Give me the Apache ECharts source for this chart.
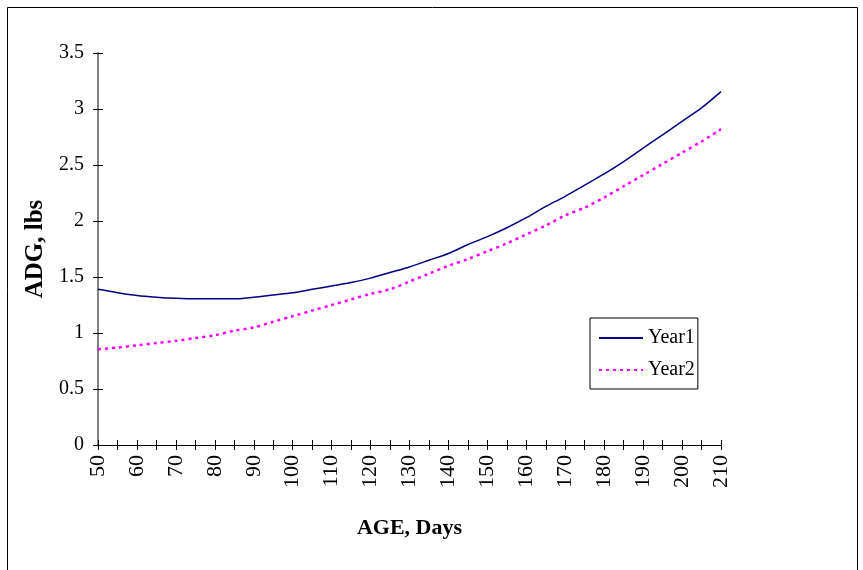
<!DOCTYPE html>
<html>
<head>
<meta charset="utf-8">
<script src="https://cdn.jsdelivr.net/npm/echarts@6/dist/echarts.min.js"></script>
<style>
  html, body { margin: 0; padding: 0; background: #fff; }
  #chart { width: 863px; height: 570px; }
</style>
</head>
<body>
<div id="chart"></div>
<script>
// age in days, every 5 days
var days = [50, 55, 60, 65, 70, 75, 80, 85, 90, 95, 100, 105, 110, 115, 120, 125, 130,
  135, 140, 145, 150, 155, 160, 165, 170, 175, 180, 185, 190, 195, 200, 205, 210];
// ADG, lbs
var year1 = [1.39, 1.36, 1.335, 1.32, 1.31, 1.305, 1.305, 1.305, 1.32, 1.34, 1.36, 1.39, 1.42,
  1.45, 1.49, 1.54, 1.59, 1.65, 1.71, 1.79, 1.86, 1.94, 2.03, 2.13, 2.22, 2.32, 2.42,
  2.53, 2.65, 2.77, 2.89, 3.01, 3.155];
var year2 = [0.855, 0.87, 0.89, 0.91, 0.93, 0.955, 0.98, 1.02, 1.05, 1.10, 1.15, 1.20, 1.25,
  1.30, 1.35, 1.39, 1.46, 1.53, 1.60, 1.66, 1.73, 1.80, 1.88, 1.96, 2.05, 2.12, 2.21,
  2.31, 2.41, 2.51, 2.61, 2.71, 2.82];
var seriesNames = ["Year1", "Year2"];

var font = "Liberation Serif";

function pairs(vals) {
  return days.map(function (d, i) { return [d, vals[i]]; });
}

var chart = echarts.init(document.getElementById("chart"));

// two copies of each axis so the ticks cross the axis line
var xBase = {
  type: "value", min: 50, max: 210, interval: 5,
  splitLine: { show: false }
};
var yBase = {
  type: "value", min: 0, max: 3.5, interval: 0.5,
  splitLine: { show: false }
};

chart.setOption({
  animation: false,
  backgroundColor: "#fff",
  graphic: [{
    type: "rect",
    shape: { x: 7.5, y: 7.5, width: 850, height: 580 },
    style: { fill: "none", stroke: "#000", lineWidth: 1 }
  }],
  grid: { left: 98, right: 142, top: 53, bottom: 125 },
  legend: {
    orient: "vertical",
    left: 590, top: 318,
    data: seriesNames,
    itemWidth: 44, itemHeight: 14, itemGap: 12,
    padding: [10, 3, 9, 8],
    borderColor: "#000", borderWidth: 1,
    itemStyle: { opacity: 0 },
    textStyle: { fontFamily: font, fontSize: 20, color: "#000", lineHeight: 20 }
  },
  xAxis: [
    Object.assign({}, xBase, {
      name: "AGE, Days",
      nameLocation: "middle",
      nameGap: 72,
      nameTextStyle: { fontFamily: font, fontSize: 22, fontWeight: "bold", color: "#000" },
      axisLine: { lineStyle: { color: "#000", width: 1 } },
      axisTick: { inside: false, length: 5, lineStyle: { color: "#000" } },
      axisLabel: {
        rotate: 90, margin: 10,
        fontFamily: font, fontSize: 22, color: "#000",
        showMaxLabel: true, showMinLabel: true,
        formatter: function (v) { return v % 10 === 0 ? String(v) : ""; }
      }
    }),
    Object.assign({}, xBase, {
      position: "bottom",
      axisLine: { show: false },
      axisTick: { inside: true, length: 5, lineStyle: { color: "#000" } },
      axisLabel: { show: false }
    })
  ],
  yAxis: [
    Object.assign({}, yBase, {
      name: "ADG, lbs",
      nameLocation: "middle",
      nameGap: 49,
      nameTextStyle: { fontFamily: font, fontSize: 25, fontWeight: "bold", color: "#000" },
      axisLine: { lineStyle: { color: "#808080", width: 2 } },
      axisTick: { inside: false, length: 5, lineStyle: { color: "#000" } },
      axisLabel: { margin: 14, fontFamily: font, fontSize: 20, color: "#000" }
    }),
    Object.assign({}, yBase, {
      position: "left",
      axisLine: { show: false },
      axisTick: { inside: true, length: 5, lineStyle: { color: "#000" } },
      axisLabel: { show: false }
    })
  ],
  series: [
    {
      name: seriesNames[0],
      type: "line",
      data: pairs(year1),
      smooth: 0.3,
      symbol: "none",
      lineStyle: { color: "#000080", width: 1.5 },
      itemStyle: { color: "#000080" }
    },
    {
      name: seriesNames[1],
      type: "line",
      data: pairs(year2),
      smooth: 0.3,
      symbol: "none",
      lineStyle: { color: "#FF00FF", width: 2.5, type: [3, 4] },
      itemStyle: { color: "#FF00FF" }
    }
  ]
});
</script>
</body>
</html>
